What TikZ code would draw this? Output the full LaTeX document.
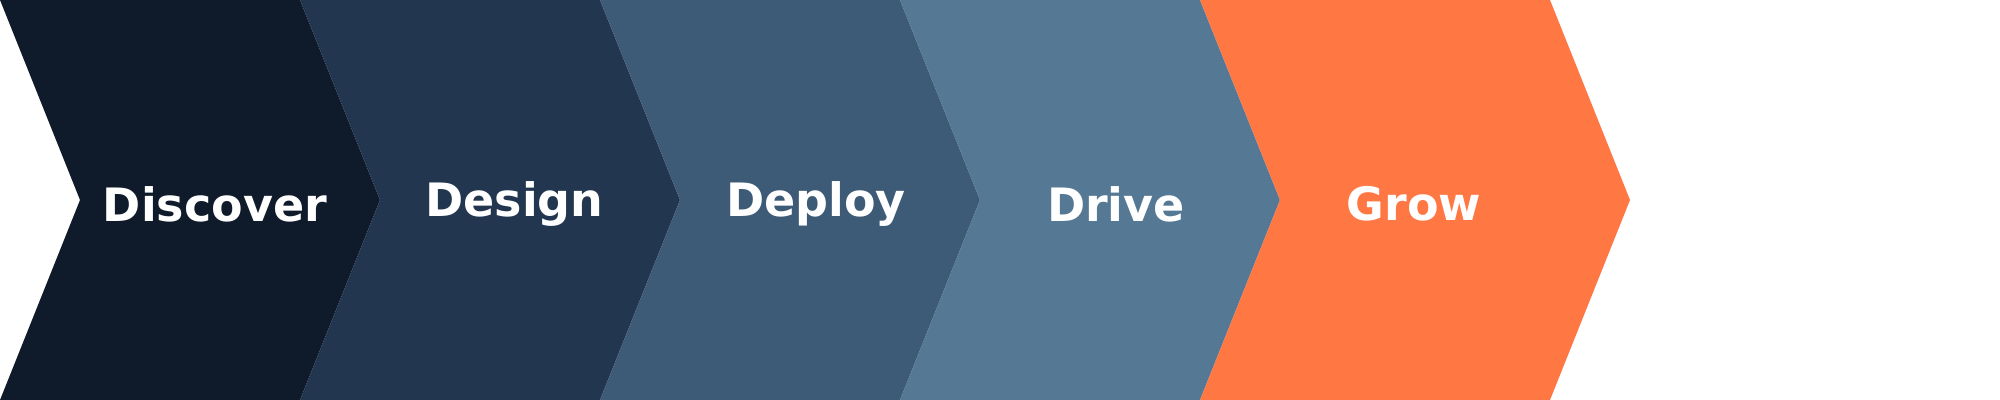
\documentclass[tikz,border=0pt]{standalone}
\usepackage{fontspec}
\setmainfont{DejaVu Sans}
\definecolor{cA}{HTML}{0F1A2A}
\definecolor{cB}{HTML}{22364F}
\definecolor{cC}{HTML}{3D5A76}
\definecolor{cD}{HTML}{557894}
\definecolor{cE}{HTML}{FF7843}
\tikzset{
  chev/.style={fill=#1, draw=none},
  lbl/.style={text=white, font=\fontsize{23}{27}\selectfont\bfseries, inner sep=0pt, anchor=center}
}
\begin{document}
\begin{tikzpicture}[x=0.5pt,y=-0.5pt]
\useasboundingbox (0,0) rectangle (2000,400);
\fill[white] (0,0) rectangle (2000,400);
\foreach \i/\c in {0/cA,1/cB,2/cC,3/cD}{
  \fill[chev=\c] (300*\i,0) -- (300*\i+300,0) -- (300*\i+380,200) -- (300*\i+300,400) -- (300*\i,400) -- (300*\i+80,200) -- cycle;
}
\fill[chev=cE] (1200,0) -- (1550,0) -- (1630,200) -- (1550,400) -- (1200,400) -- (1280,200) -- cycle;
\node[lbl] (discover) at (215,204) {Discover};
\node[lbl] (design) at (514.5,204) {Design};
\node[lbl] (deploy) at (816,204) {Deploy};
\node[lbl] (drive) at (1116,204) {Drive};
\node[lbl] (grow) at (1414,204) {Grow};
\end{tikzpicture}
\end{document}
